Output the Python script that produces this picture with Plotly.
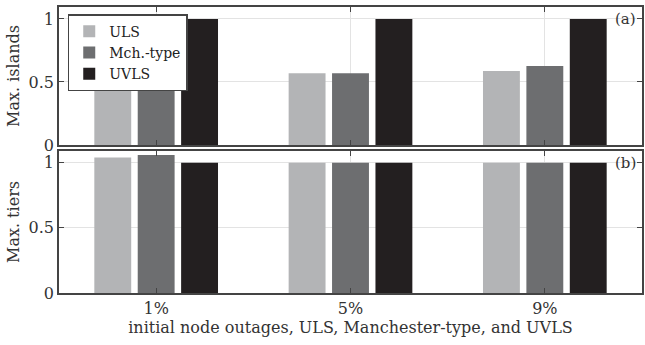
import plotly.graph_objects as go
from plotly.subplots import make_subplots

categories = ["1%", "5%", "9%"]
series_names = ["ULS", "Mch.-type", "UVLS"]
islands = {
    "ULS": [0.455, 0.569, 0.588],
    "Mch.-type": [0.455, 0.569, 0.627],
    "UVLS": [1.0, 1.0, 1.0],
}
tiers = {
    "ULS": [1.04, 1.0, 1.0],
    "Mch.-type": [1.06, 1.0, 1.0],
    "UVLS": [1.0, 1.0, 1.0],
}
colors = {"ULS": "#b3b4b6", "Mch.-type": "#6d6e70", "UVLS": "#231f20"}
xpos = [1, 2, 3]

FONT = "DejaVu Serif"
fig = make_subplots(rows=2, cols=1, vertical_spacing=0.0)

for name in series_names:
    fig.add_trace(go.Bar(x=xpos, y=islands[name], name=name,
                         marker=dict(color=colors[name], line=dict(width=0)),
                         showlegend=True), row=1, col=1)
for name in series_names:
    fig.add_trace(go.Bar(x=xpos, y=tiers[name], name=name,
                         marker=dict(color=colors[name], line=dict(width=0)),
                         showlegend=False), row=2, col=1)

axis_common = dict(showline=True, linecolor="#444444", linewidth=1.5, mirror="ticks",
                   ticks="inside", ticklen=5, tickcolor="#444444", tickwidth=1,
                   showgrid=True, gridcolor="#e3e3e3", gridwidth=1, zeroline=False,
                   tickfont=dict(family=FONT, size=16, color="#333333"))

fig.update_xaxes(range=[0.5, 3.5], tickvals=xpos, ticktext=categories, **axis_common)
fig.update_xaxes(showticklabels=False, row=1, col=1)
fig.update_xaxes(title=dict(text="initial node outages, ULS, Manchester-type, and UVLS",
                            font=dict(family=FONT, size=16, color="#333333"), standoff=5),
                 row=2, col=1)
fig.update_yaxes(range=[0, 1.095], tickvals=[0, 0.5, 1], ticktext=["0", "0.5", "1"], **axis_common)
fig.update_yaxes(title=dict(text="Max. islands", font=dict(family=FONT, size=16, color="#333333"), standoff=5),
                 domain=[0.5175, 1.0], row=1, col=1)
fig.update_yaxes(title=dict(text="Max. tiers", font=dict(family=FONT, size=16, color="#333333"), standoff=5),
                 domain=[0.0, 0.4965], range=[0, 1.09], row=2, col=1)

fig.add_annotation(text="(a)", xref="paper", yref="y", x=0.993, y=1.0, xanchor="right",
                   yanchor="middle", showarrow=False, font=dict(family=FONT, size=15, color="#333333"))
fig.add_annotation(text="(b)", xref="paper", yref="y2", x=0.993, y=1.0, xanchor="right",
                   yanchor="middle", showarrow=False, font=dict(family=FONT, size=15, color="#333333"))

fig.update_layout(
    width=645, height=345,
    margin=dict(l=59, r=1, t=7, b=52),
    barmode="group", bargap=0.33, bargroupgap=0.15,
    plot_bgcolor="white", paper_bgcolor="white",
    legend=dict(x=0.015, y=0.975, xanchor="left", yanchor="top",
                bordercolor="#444444", borderwidth=1.5, bgcolor="white",
                font=dict(family=FONT, size=14, color="#222222"),
                tracegroupgap=0, itemwidth=30),
)

fig.write_html("out.html")
